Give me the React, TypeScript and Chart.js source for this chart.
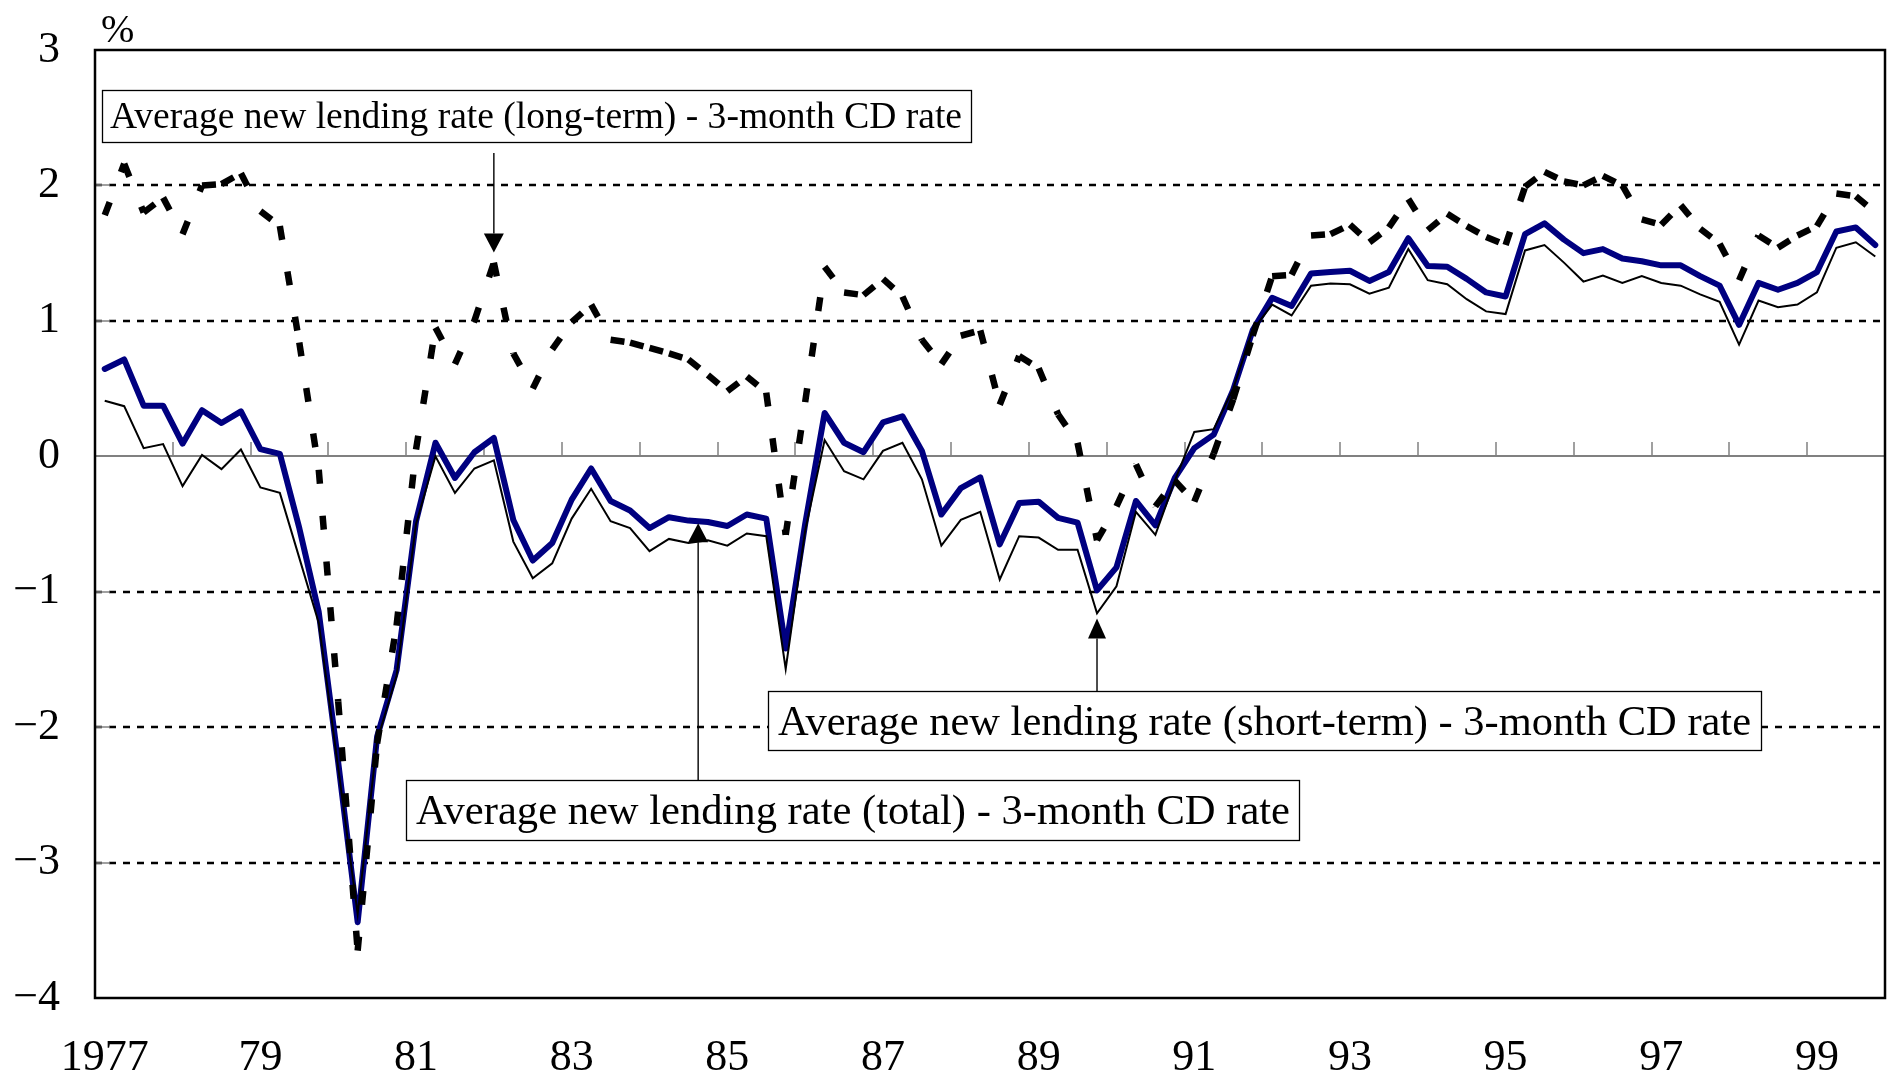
import React, { useEffect, useRef } from "react";
import { Chart, registerables } from "chart.js";

Chart.register(...registerables);

// ---------- data ----------
const years = [
  1977, 1978, 1979, 1980, 1981, 1982, 1983, 1984, 1985, 1986, 1987, 1988,
  1989, 1990, 1991, 1992, 1993, 1994, 1995, 1996, 1997, 1998, 1999,
];
const quarterNames = ["Q1", "Q2", "Q3", "Q4"];
const quarterLabels = years.flatMap((y) => quarterNames.map((q) => `${y}${q}`));

const xTickLabels = ["1977", "79", "81", "83", "85", "87", "89", "91", "93", "95", "97", "99"];

// Average new lending rate (long-term) - 3-month CD rate
const longTermSpread = [
  1.78, 2.16, 1.8, 1.91, 1.64, 2.0, 2.01, 2.09, 1.81, 1.7,
  0.84, -0.1, -1.81, -3.65, -2.12, -1.25, 0.05, 0.95, 0.68, 1.0,
  1.43, 0.76, 0.5, 0.79, 0.99, 1.12, 0.86, 0.84, 0.8, 0.76,
  0.715, 0.6, 0.48, 0.59, 0.47, -0.58, 0.4, 1.4, 1.21, 1.19,
  1.31, 1.18, 0.86, 0.68, 0.89, 0.93, 0.38, 0.74, 0.65, 0.31,
  0.1, -0.62, -0.37, -0.06, -0.37, -0.18, -0.335, 0.02, 0.42, 0.89,
  1.33, 1.34, 1.63, 1.64, 1.71, 1.58, 1.69, 1.9, 1.67, 1.79,
  1.7, 1.62, 1.56, 1.99, 2.1, 2.03, 2.0, 2.07, 2.0, 1.75,
  1.71, 1.855, 1.68, 1.57, 1.3, 1.63, 1.54, 1.63, 1.7, 1.94,
  1.92, 1.8,
];

// Average new lending rate (total) - 3-month CD rate
const totalSpread = [
  0.645, 0.715, 0.374, 0.374, 0.093, 0.34, 0.246, 0.332, 0.053, 0.018,
  -0.53, -1.15, -2.26, -3.44, -2.07, -1.58, -0.48, 0.1, -0.16, 0.03,
  0.135, -0.47, -0.77, -0.64, -0.32, -0.09, -0.33, -0.4, -0.53, -0.45,
  -0.475, -0.485, -0.515, -0.43, -0.46, -1.42, -0.5, 0.32, 0.1, 0.03,
  0.25, 0.295, 0.04, -0.43, -0.235, -0.155, -0.65, -0.345, -0.335, -0.455,
  -0.49, -0.99, -0.82, -0.33, -0.51, -0.16, 0.06, 0.16, 0.49, 0.93,
  1.17, 1.11, 1.35, 1.36, 1.37, 1.295, 1.36, 1.61, 1.405, 1.4,
  1.31, 1.21, 1.18, 1.64, 1.72, 1.6, 1.5, 1.53, 1.46, 1.44,
  1.41, 1.41, 1.33, 1.26, 0.97, 1.28, 1.23, 1.28, 1.36, 1.66,
  1.69, 1.56,
];

// Average new lending rate (short-term) - 3-month CD rate
const shortTermSpread = [
  0.41, 0.37, 0.06, 0.09, -0.22, 0.01, -0.095, 0.05, -0.23, -0.27,
  -0.75, -1.23, -2.3, -3.38, -2.1, -1.62, -0.5, 0.0, -0.27, -0.09,
  -0.03, -0.63, -0.9, -0.79, -0.46, -0.24, -0.48, -0.53, -0.7, -0.61,
  -0.64, -0.62, -0.66, -0.57, -0.59, -1.57, -0.55, 0.12, -0.11, -0.17,
  0.04, 0.1, -0.17, -0.66, -0.47, -0.41, -0.91, -0.59, -0.6, -0.69,
  -0.69, -1.16, -0.96, -0.41, -0.58, -0.18, 0.18, 0.2, 0.5, 0.93,
  1.12, 1.04, 1.26, 1.275, 1.27, 1.2, 1.245, 1.53, 1.3, 1.27,
  1.16, 1.07, 1.05, 1.52, 1.56, 1.43, 1.29, 1.335, 1.28, 1.33,
  1.28, 1.26, 1.195, 1.14, 0.825, 1.15, 1.1, 1.12, 1.21, 1.54,
  1.58, 1.475,
];

const seriesNames = [
  "Average new lending rate (long-term) - 3-month CD rate",
  "Average new lending rate (short-term) - 3-month CD rate",
  "Average new lending rate (total) - 3-month CD rate",
];

const unitLabel = "%";

// ---------- styling / layout (not data) ----------
const FONT = "'Liberation Serif', 'Times New Roman', serif";

const annotationBoxes = [
  { text: seriesNames[0], left: 102, top: 90, right: 971, bottom: 142, size: 37, textLeft: 110, textRight: 962, baseline: 128 },
  { text: seriesNames[1], left: 768, top: 691, right: 1761, bottom: 750, size: 42, textLeft: 778, textRight: 1751, baseline: 735 },
  { text: seriesNames[2], left: 406, top: 780, right: 1299, bottom: 840, size: 42, textLeft: 416, textRight: 1290, baseline: 824 },
];

const arrows = [
  { dataset: 0, from: 20, to: 20, dir: "down", startY: 153, gap: -10, headW: 20, headL: 19 },
  { dataset: 2, from: 30, to: 31, dir: "up", startY: 780, gap: 2, headW: 20, headL: 19 },
  { dataset: 1, from: 51, to: 51, dir: "up", startY: 691, gap: 5, headW: 18, headL: 20 },
];

const decorPlugin = {
  id: "decor",
  beforeDatasetsDraw(chart: any) {
    const { ctx, chartArea: a, scales } = chart;
    const x = scales.x;
    const y = scales.y;
    ctx.save();
    // dashed gridlines
    ctx.strokeStyle = "#000";
    ctx.lineWidth = 2.5;
    ctx.setLineDash([7, 7]);
    for (const t of y.ticks) {
      const v = t.value;
      if (v === 0 || v === y.max || v === y.min) continue;
      const py = Math.round(y.getPixelForValue(v));
      ctx.beginPath();
      ctx.moveTo(a.left, py);
      ctx.lineTo(a.right, py);
      ctx.stroke();
    }
    ctx.setLineDash([]);
    // inward ticks on left axis
    ctx.strokeStyle = "#808080";
    ctx.lineWidth = 1.5;
    for (const t of y.ticks) {
      const py = Math.round(y.getPixelForValue(t.value));
      ctx.beginPath();
      ctx.moveTo(a.left, py);
      ctx.lineTo(a.left + 15, py);
      ctx.stroke();
    }
    // zero line
    const y0 = Math.round(y.getPixelForValue(0));
    ctx.lineWidth = 2;
    ctx.beginPath();
    ctx.moveTo(a.left, y0);
    ctx.lineTo(a.right, y0);
    ctx.stroke();
    // year tick marks on the zero line
    ctx.lineWidth = 1.5;
    const n = chart.data.labels.length;
    for (let i = 4; i < n; i += 4) {
      const xb = Math.round((x.getPixelForValue(i - 1) + x.getPixelForValue(i)) / 2);
      ctx.beginPath();
      ctx.moveTo(xb, y0);
      ctx.lineTo(xb, y0 - 14);
      ctx.stroke();
    }
    ctx.restore();
  },
  afterDraw(chart: any) {
    const { ctx, chartArea: a, scales } = chart;
    const x = scales.x;
    const y = scales.y;
    ctx.save();
    // frame
    ctx.strokeStyle = "#000";
    ctx.lineWidth = 2.5;
    ctx.strokeRect(a.left, a.top, a.right - a.left, a.bottom - a.top);

    // unit label
    ctx.fillStyle = "#000";
    ctx.font = `40px ${FONT}`;
    ctx.textAlign = "left";
    ctx.textBaseline = "alphabetic";
    ctx.fillText(unitLabel, 101, 42);

    // arrows
    ctx.strokeStyle = "#000";
    ctx.fillStyle = "#000";
    ctx.lineWidth = 1.4;
    for (const ar of arrows) {
      const data = chart.data.datasets[ar.dataset].data;
      const px = (x.getPixelForValue(ar.from) + x.getPixelForValue(ar.to)) / 2;
      const val = (data[ar.from] + data[ar.to]) / 2;
      const tip = y.getPixelForValue(val) + ar.gap;
      const s = ar.dir === "down" ? 1 : -1;
      ctx.beginPath();
      ctx.moveTo(px, ar.startY);
      ctx.lineTo(px, tip - s * ar.headL);
      ctx.stroke();
      ctx.beginPath();
      ctx.moveTo(px, tip);
      ctx.lineTo(px - ar.headW / 2, tip - s * ar.headL);
      ctx.lineTo(px + ar.headW / 2, tip - s * ar.headL);
      ctx.closePath();
      ctx.fill();
    }

    // text boxes
    for (const b of annotationBoxes) {
      ctx.fillStyle = "#fff";
      ctx.fillRect(b.left, b.top, b.right - b.left, b.bottom - b.top);
      ctx.strokeStyle = "#000";
      ctx.lineWidth = 1.3;
      ctx.strokeRect(b.left + 0.5, b.top + 0.5, b.right - b.left, b.bottom - b.top);
      ctx.fillStyle = "#000";
      ctx.font = `${b.size}px ${FONT}`;
      const w = ctx.measureText(b.text).width;
      const sx = (b.textRight - b.textLeft) / w;
      ctx.save();
      ctx.translate(b.textLeft, b.baseline);
      ctx.scale(sx, 1);
      ctx.fillText(b.text, 0, 0);
      ctx.restore();
    }
    ctx.restore();
  },
};

export default function App() {
  const ref = useRef<HTMLCanvasElement>(null);

  useEffect(() => {
    if (!ref.current) return;
    const chart = new Chart(ref.current, {
      type: "line",
      data: {
        labels: quarterLabels,
        datasets: [
          {
            label: seriesNames[0],
            data: longTermSpread,
            borderColor: "#000",
            borderWidth: 6.5,
            borderDash: [14, 32],
            borderCapStyle: "butt",
            pointRadius: 0,
            tension: 0,
            fill: false,
            segment: {
              borderDashOffset: (c: any) => (c.p0DataIndex % 2) * 0.01,
            },
          },
          {
            label: seriesNames[1],
            data: shortTermSpread,
            borderColor: "#000",
            borderWidth: 2,
            borderJoinStyle: "miter",
            pointRadius: 0,
            tension: 0,
            fill: false,
          },
          {
            label: seriesNames[2],
            data: totalSpread,
            borderColor: "#000080",
            borderWidth: 6,
            borderJoinStyle: "round",
            borderCapStyle: "round",
            pointRadius: 0,
            tension: 0,
            fill: false,
          },
        ],
      } as any,
      options: {
        animation: false,
        responsive: false,
        devicePixelRatio: 1,
        layout: { padding: { top: 50, right: 5, left: 0, bottom: 0 } },
        plugins: {
          legend: { display: false },
          tooltip: { enabled: false },
        },
        scales: {
          x: {
            type: "category",
            offset: true,
            grid: { display: false, drawTicks: false },
            border: { display: false },
            ticks: {
              autoSkip: false,
              maxRotation: 0,
              minRotation: 0,
              padding: 34,
              color: "#000",
              font: { family: FONT, size: 44 },
              callback: (_v: any, i: number) => (i % 8 === 0 ? xTickLabels[i / 8] : ""),
            },
            afterFit: (s: any) => {
              s.height = 82;
              s.paddingLeft = 0;
              s.paddingRight = 0;
            },
          },
          y: {
            min: -4,
            max: 3,
            grid: { display: false, drawTicks: false },
            border: { display: false },
            ticks: {
              stepSize: 1,
              padding: 35,
              color: "#000",
              font: { family: FONT, size: 44 },
              callback: (v: any) => (v < 0 ? "\u2212" + Math.abs(v) : String(v)),
            },
            afterFit: (s: any) => {
              s.width = 95;
              s.paddingTop = 0;
              s.paddingBottom = 0;
            },
          },
        },
      } as any,
      plugins: [decorPlugin],
    });
    return () => chart.destroy();
  }, []);

  return (
    <div style={{ position: "fixed", left: 0, top: 0, width: 1890, height: 1080, background: "#fff" }}>
      <canvas ref={ref} width={1890} height={1080} style={{ display: "block", width: 1890, height: 1080 }} />
    </div>
  );
}
